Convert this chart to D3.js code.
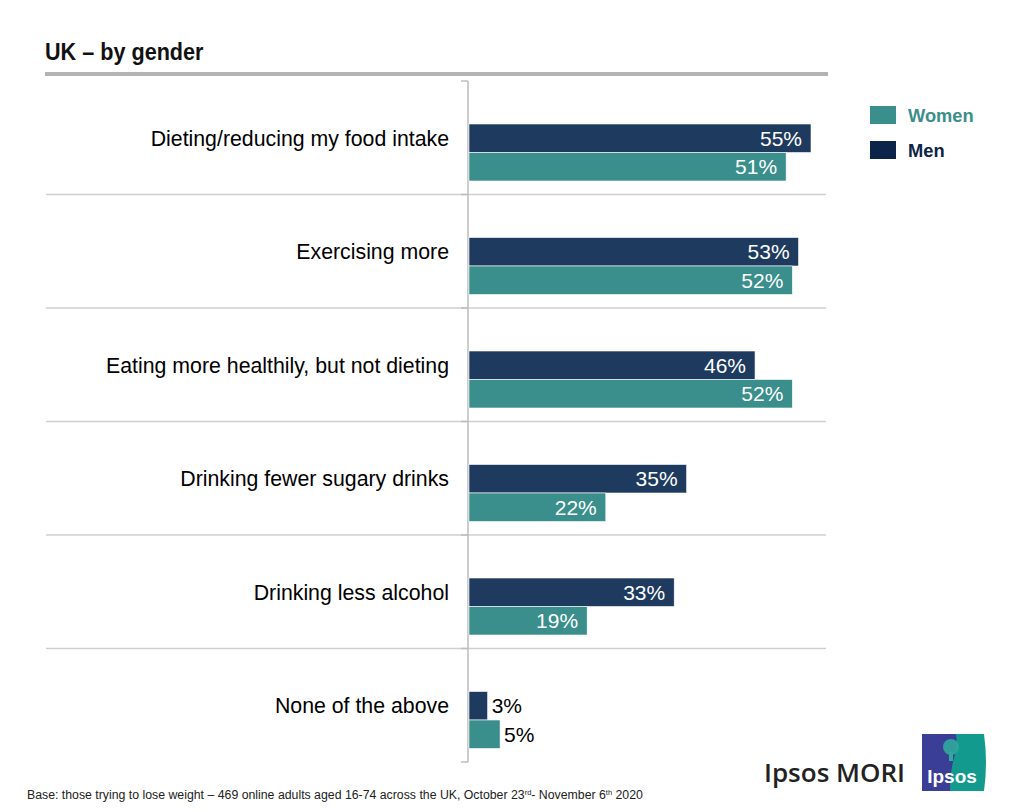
<!DOCTYPE html>
<html>
<head>
<meta charset="utf-8">
<script src="https://cdn.jsdelivr.net/npm/d3@7"></script>
<style>
  body { margin: 0; background: #fff; }
  svg { display: block; font-family: "Liberation Sans", Arial, sans-serif; }
</style>
</head>
<body>
<div id="app"></div>
<script>
const categories = [
  'Dieting/reducing my food intake',
  'Exercising more',
  'Eating more healthily, but not dieting',
  'Drinking fewer sugary drinks',
  'Drinking less alcohol',
  'None of the above'
]
const men = [55, 53, 46, 35, 33, 3]
const women = [51, 52, 52, 22, 19, 5]
const genders = ['Men', 'Women']
const legendOrder = ['Women', 'Men']

const W = 1024, H = 812
const colorBar = d3.scaleOrdinal().domain(genders).range(['#1e3a5f', '#3a8e8b'])
const colorLegend = d3.scaleOrdinal().domain(genders).range(['#0c2447', '#3a8e8b'])

const data = categories.map((c, i) => ({cat: c, Men: men[i], Women: women[i]}))

const svg = d3.select('#app').append('svg')
  .attr('width', W).attr('height', H)
  .attr('viewBox', [0, 0, W, H])

// title + rule
svg.append('text').text('UK – by gender')
  .attr('x', 45).attr('y', 60)
  .attr('transform', 'translate(45,60) scale(0.92,1.05) translate(-45,-60)')
  .style('font-weight', 'bold').style('font-size', '23.5px').attr('fill', '#111')
svg.append('rect').attr('x', 45).attr('y', 72).attr('width', 783).attr('height', 4).attr('fill', '#b4b4b4')

const y = d3.scaleBand().domain(categories).range([81, 762])
const yInner = d3.scaleBand().domain(genders).range([43, 100])
const x = d3.scaleLinear().domain([0, 55]).range([469, 811])

// separators
svg.selectAll('line.sep')
  .data(categories.slice(1))
  .enter().append('line')
  .attr('class', 'sep')
  .attr('x1', 46).attr('x2', 826)
  .attr('y1', d => y(d)).attr('y2', d => y(d))
  .attr('stroke', '#cfcfcf').attr('stroke-width', 1.5)

// axis
const axis = svg.append('g').attr('transform', `translate(${x(0) - 1},0)`)
axis.append('line').attr('x1', 0).attr('x2', 0).attr('y1', 81).attr('y2', 762)
  .attr('stroke', '#bdbdbd').attr('stroke-width', 1.5)
axis.selectAll('line.tk')
  .data(categories.map(c => y(c)).concat([762]))
  .enter().append('line').attr('class', 'tk')
  .attr('x1', -7).attr('x2', 0).attr('y1', d => d).attr('y2', d => d)
  .attr('stroke', '#bdbdbd').attr('stroke-width', 1.5)

// category labels
svg.selectAll('text.cat')
  .data(data)
  .enter().append('text')
  .attr('class', 'cat')
  .attr('x', 449)
  .attr('y', d => y(d.cat) + yInner('Men') + yInner.bandwidth() / 2)
  .attr('dy', '0.35em')
  .attr('text-anchor', 'end')
  .style('font-size', '21.3px').attr('fill', '#000')
  .text(d => d.cat)

// bars
const groups = svg.selectAll('g.cat')
  .data(data)
  .enter().append('g')
  .attr('class', 'cat')
  .attr('transform', d => `translate(0,${y(d.cat)})`)

const cells = groups.selectAll('g.bar')
  .data(d => genders.map(g => ({g, v: d[g]})))
  .enter().append('g').attr('class', 'bar')

cells.append('rect')
  .attr('x', x(0))
  .attr('y', d => yInner(d.g))
  .attr('width', d => x(d.v) - x(0))
  .attr('height', yInner.bandwidth())
  .attr('fill', d => colorBar(d.g))
  .attr('stroke', '#fff').attr('stroke-width', 0.6)

cells.append('text')
  .attr('x', d => d.v < 10 ? x(d.v) + 4 : x(d.v) - 9)
  .attr('y', d => yInner(d.g) + yInner.bandwidth() / 2)
  .attr('dy', '0.36em')
  .attr('text-anchor', d => d.v < 10 ? 'start' : 'end')
  .attr('fill', d => d.v < 10 ? '#000' : '#fff')
  .style('font-size', '21px')
  .text(d => d.v + '%')

// legend
const legend = svg.selectAll('g.legend')
  .data(legendOrder)
  .enter().append('g').attr('class', 'legend')
  .attr('transform', (d, i) => `translate(870,${106 + i * 35})`)
legend.append('rect').attr('width', 26).attr('height', 18).attr('fill', d => colorLegend(d))
legend.append('text').attr('x', 38).attr('y', 9).attr('dy', '0.36em')
  .style('font-size', '18.3px').style('font-weight', 'bold')
  .attr('fill', d => colorLegend(d)).text(d => d)

// footer
const foot = svg.append('text').attr('x', 27).attr('y', 799)
  .style('font-size', '12.3px').attr('fill', '#222')
foot.append('tspan').text('Base: those trying to lose weight – 469 online adults aged 16-74 across the UK, October 23')
foot.append('tspan').text('rd').attr('dy', -4).style('font-size', '7.5px')
foot.append('tspan').text('- November 6').attr('dy', 4)
foot.append('tspan').text('th').attr('dy', -4).style('font-size', '7.5px')
foot.append('tspan').text(' 2020').attr('dy', 4)

// logo
svg.append('text').text('Ipsos MORI').attr('x', 764).attr('y', 782)
  .style('font-family', '"Open Sans", "Noto Sans", sans-serif')
  .style('font-size', '26px').style('font-weight', '600').attr('fill', '#222')
const logo = svg.append('g')
logo.append('rect').attr('x', 922).attr('y', 734).attr('width', 62).attr('height', 57).attr('fill', '#3b3e96')
logo.append('path')
  .attr('d', 'M956,734 L984,734 Q988,762 984,791 L950,791 Q950,775 953,762 Q958,748 956,734 Z')
  .attr('fill', '#139a8f')
logo.append('circle').attr('cx', 951).attr('cy', 747).attr('r', 8).attr('fill', '#2fa99c').attr('opacity', 0.9)
logo.append('rect').attr('x', 949).attr('y', 752).attr('width', 4).attr('height', 9).attr('fill', '#2fa99c')
logo.append('text').text('Ipsos').attr('x', 952).attr('y', 783)
  .attr('text-anchor', 'middle').style('font-size', '19px').style('font-weight', 'bold')
  .attr('fill', '#fff')
</script>
</body>
</html>
